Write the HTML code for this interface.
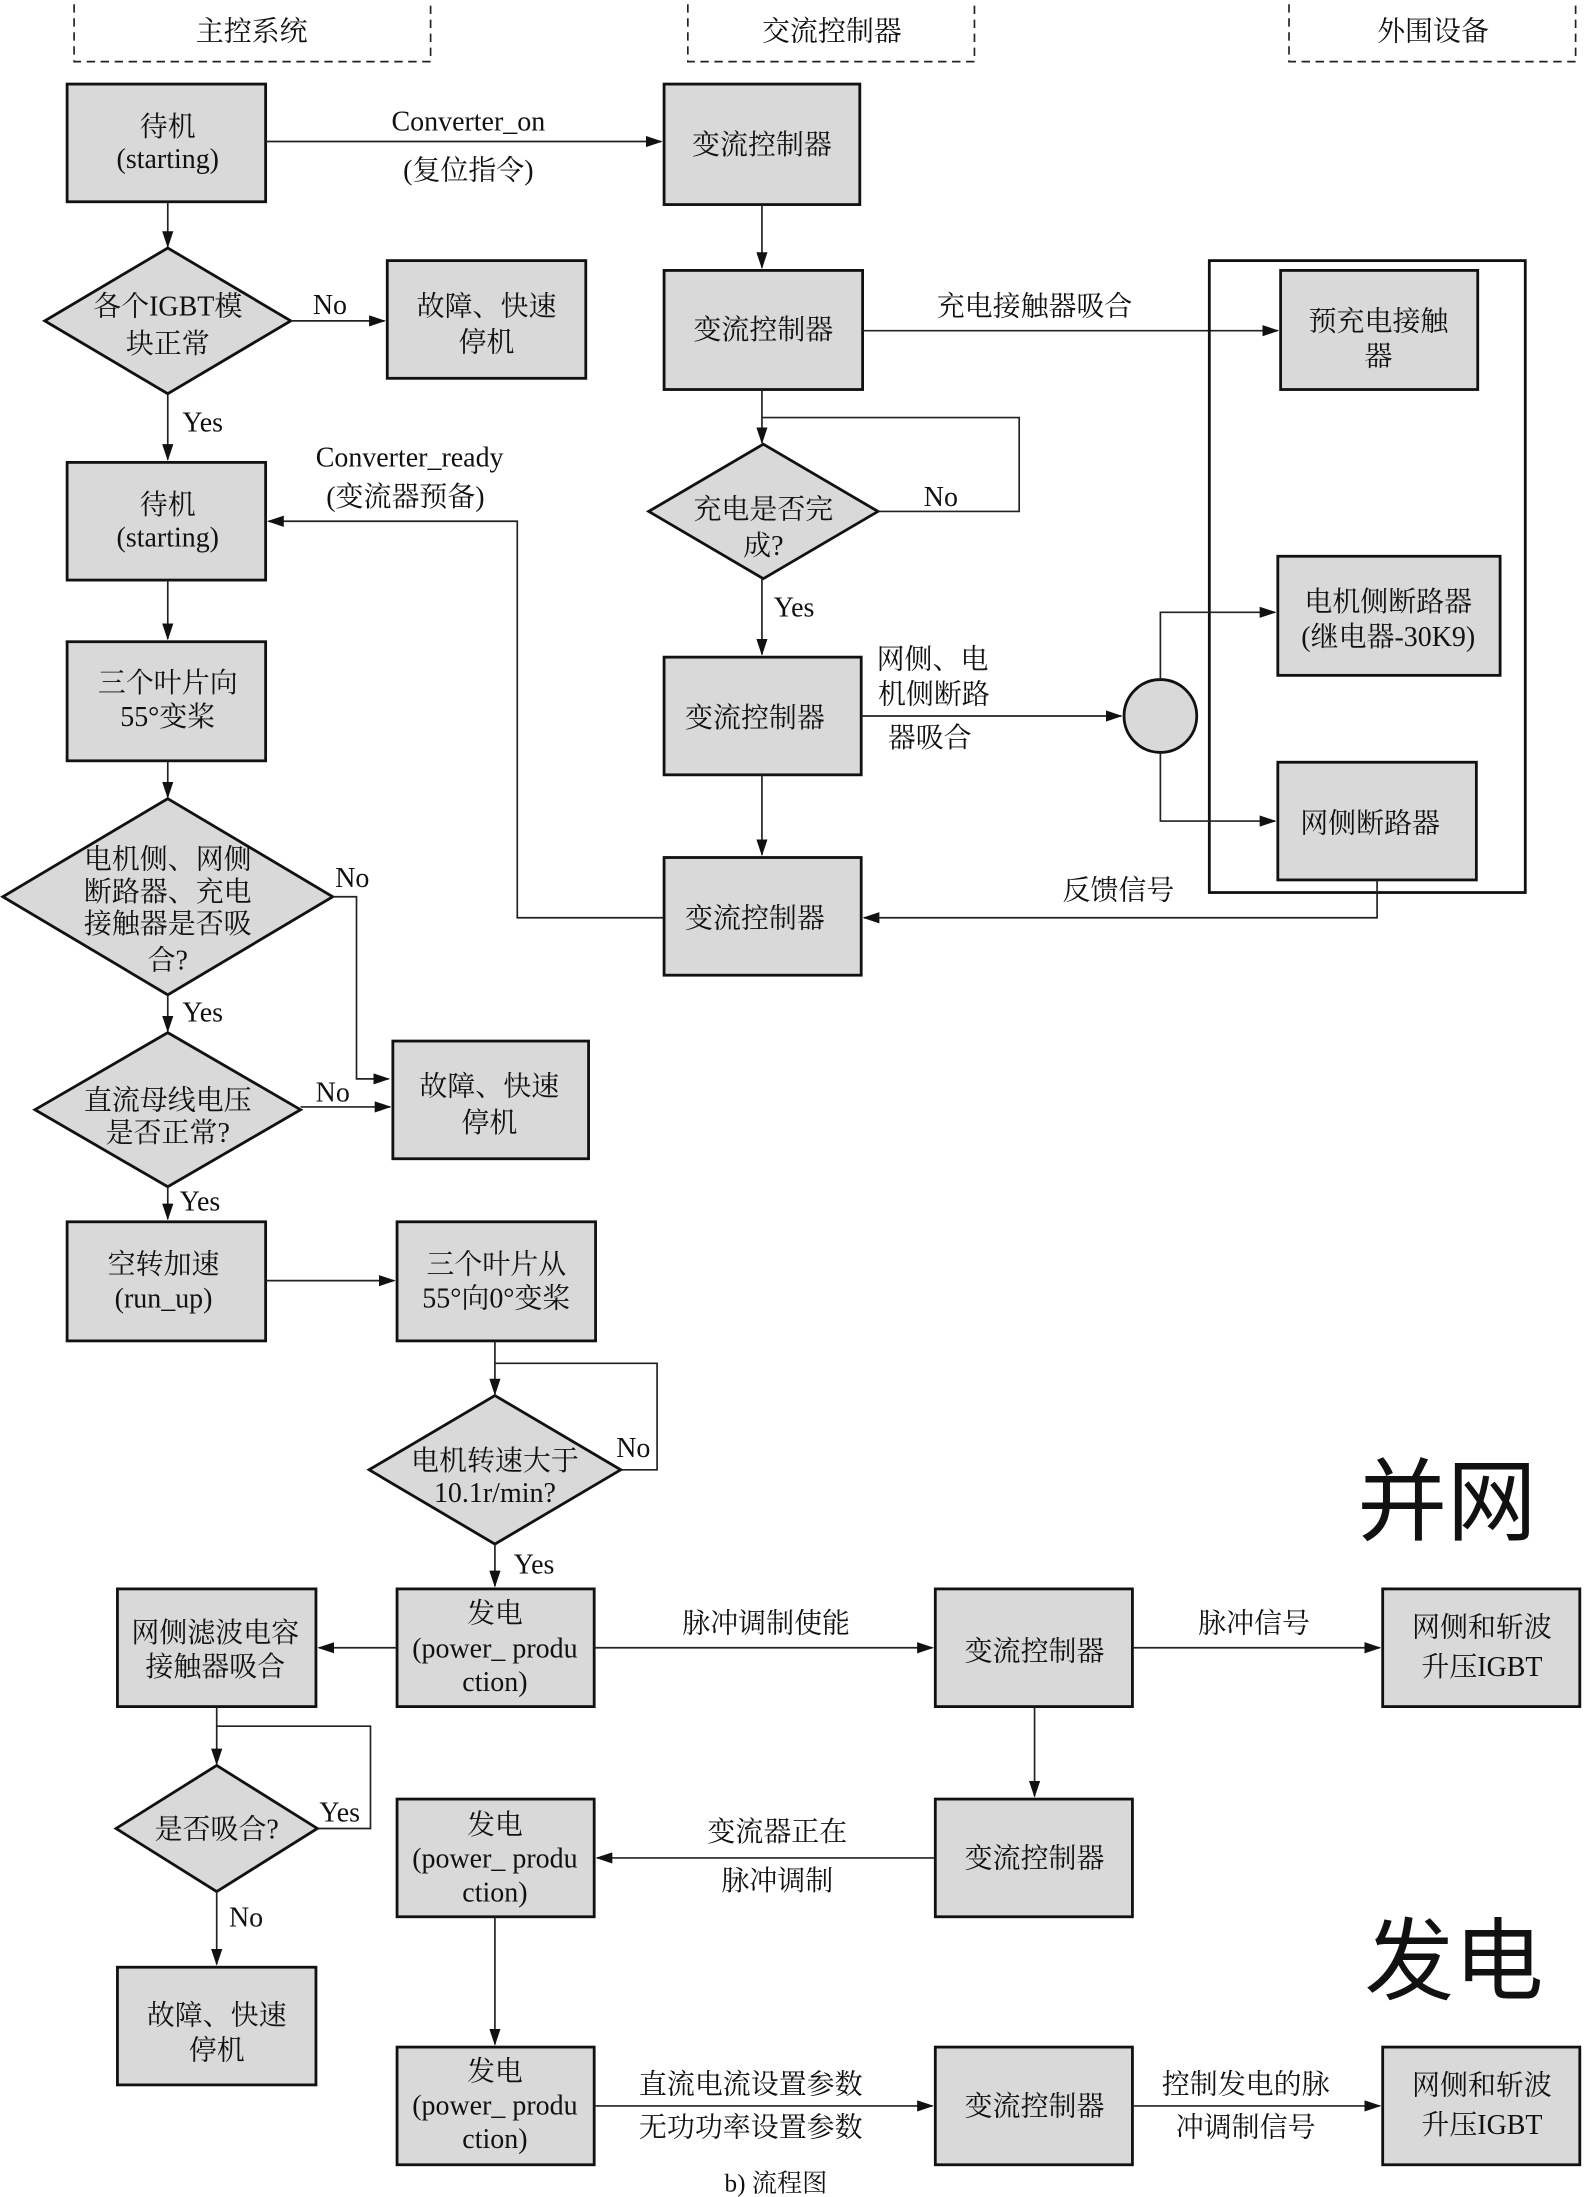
<!DOCTYPE html>
<html><head><meta charset="utf-8">
<style>
html,body{margin:0;padding:0;background:#fff;}
svg{display:block;}
text{font-family:"Liberation Serif","Noto Serif CJK SC","Noto Sans CJK SC",serif;font-size:20px;fill:#111;text-anchor:middle;}
.b{fill:#d9d9d9;stroke:#111;stroke-width:2;}
.l{fill:none;stroke:#222;stroke-width:1.2;}
</style></head><body>
<svg width="1584" height="2197" viewBox="0 0 1133 1568" preserveAspectRatio="none" xmlns="http://www.w3.org/2000/svg">
<defs><marker id="a" markerWidth="12" markerHeight="8" refX="11" refY="4" orient="auto" markerUnits="userSpaceOnUse"><path d="M0,0 L12,4 L0,8 Z" fill="#111"/></marker></defs>

<!-- headers -->
<g fill="none" stroke="#222" stroke-width="1.2" stroke-dasharray="6,4">
<path d="M53,3 V44 H308 V3"/><path d="M492,3 V44 H697 V3"/><path d="M922,3 V44 H1127 V3"/>
</g>
<text x="180" y="29">主控系统</text><text x="595" y="29">交流控制器</text><text x="1025" y="29">外围设备</text>

<!-- left column -->
<rect class="b" x="48" y="60" width="142" height="84"/>
<text x="120" y="97">待机</text><text x="120" y="120">(starting)</text>
<path class="l" d="M190,101 H473" marker-end="url(#a)"/>
<text x="335" y="93">Converter_on</text><text x="335" y="128">(复位指令)</text>
<path class="l" d="M120,144 V176" marker-end="url(#a)"/>
<polygon class="b" points="120,177 208,229 120,281 32,229"/>
<text x="120" y="225">各个IGBT模</text><text x="120" y="252">块正常</text>
<path class="l" d="M208,229 H275" marker-end="url(#a)"/><text x="236" y="224">No</text>
<rect class="b" x="277" y="186" width="142" height="84"/>
<text x="348" y="225">故障、快速</text><text x="348" y="251">停机</text>
<path class="l" d="M120,281 V328" marker-end="url(#a)"/><text x="145" y="308">Yes</text>
<rect class="b" x="48" y="330" width="142" height="84"/>
<text x="120" y="367">待机</text><text x="120" y="390">(starting)</text>
<text x="293" y="333">Converter_ready</text><text x="290" y="361">(变流器预备)</text>
<path class="l" d="M475,655 H370 V372 H192" marker-end="url(#a)"/>
<path class="l" d="M120,414 V456" marker-end="url(#a)"/>
<rect class="b" x="48" y="458" width="142" height="85"/>
<text x="120" y="494">三个叶片向</text><text x="120" y="518">55°变桨</text>
<path class="l" d="M120,543 V569" marker-end="url(#a)"/>
<polygon class="b" points="120,570 238,640 120,710 2,640"/>
<text x="120" y="620">电机侧、网侧</text><text x="120" y="643">断路器、充电</text><text x="120" y="666">接触器是否吸</text><text x="120" y="692">合?</text>
<path class="l" d="M238,640 H255 V770 H278" marker-end="url(#a)"/><text x="252" y="633">No</text>
<path class="l" d="M120,710 V736" marker-end="url(#a)"/><text x="145" y="729">Yes</text>
<polygon class="b" points="120,737 215,792 120,847 25,792"/>
<text x="120" y="792">直流母线电压</text><text x="120" y="815">是否正常?</text>
<path class="l" d="M215,790 H279" marker-end="url(#a)"/><text x="238" y="786">No</text>
<rect class="b" x="281" y="743" width="140" height="84"/>
<text x="350" y="782">故障、快速</text><text x="350" y="808">停机</text>
<path class="l" d="M120,847 V870" marker-end="url(#a)"/><text x="143" y="864">Yes</text>
<rect class="b" x="48" y="872" width="142" height="85"/>
<text x="117" y="909">空转加速</text><text x="117" y="933">(run_up)</text>
<path class="l" d="M190,914 H282" marker-end="url(#a)"/>
<rect class="b" x="284" y="872" width="142" height="85"/>
<text x="355" y="909">三个叶片从</text><text x="355" y="933">55°向0°变桨</text>
<path class="l" d="M354,957 V995" marker-end="url(#a)"/>
<path class="l" d="M354,973 H470 V1049 H444"/>
<polygon class="b" points="354,996 444,1049 354,1102 264,1049"/>
<text x="354" y="1049">电机转速大于</text><text x="354" y="1072">10.1r/min?</text>
<text x="453" y="1040">No</text>
<path class="l" d="M354,1102 V1132" marker-end="url(#a)"/><text x="382" y="1123">Yes</text>
<rect class="b" x="284" y="1134" width="141" height="84"/>
<text x="354" y="1158">发电</text><text x="354" y="1183">(power_ produ</text><text x="354" y="1207">ction)</text>
<path class="l" d="M284,1176 H228" marker-end="url(#a)"/>
<rect class="b" x="84" y="1134" width="142" height="84"/>
<text x="154" y="1172">网侧滤波电容</text><text x="154" y="1196">接触器吸合</text>
<path class="l" d="M425,1176 H667" marker-end="url(#a)"/><text x="548" y="1165">脉冲调制使能</text>
<rect class="b" x="669" y="1134" width="141" height="84"/>
<text x="740" y="1185">变流控制器</text>
<path class="l" d="M810,1176 H987" marker-end="url(#a)"/><text x="897" y="1165">脉冲信号</text>
<rect class="b" x="989" y="1134" width="141" height="84"/>
<text x="1060" y="1168">网侧和斩波</text><text x="1060" y="1196">升压IGBT</text>
<path class="l" d="M740,1218 V1282" marker-end="url(#a)"/>
<rect class="b" x="669" y="1284" width="141" height="84"/>
<text x="740" y="1333">变流控制器</text>
<path class="l" d="M669,1326 H427" marker-end="url(#a)"/>
<text x="556" y="1314">变流器正在</text><text x="556" y="1349">脉冲调制</text>
<rect class="b" x="284" y="1284" width="141" height="84"/>
<text x="354" y="1309">发电</text><text x="354" y="1333">(power_ produ</text><text x="354" y="1357">ction)</text>
<path class="l" d="M354,1368 V1459" marker-end="url(#a)"/>
<rect class="b" x="284" y="1461" width="141" height="84"/>
<text x="354" y="1485">发电</text><text x="354" y="1509">(power_ produ</text><text x="354" y="1533">ction)</text>
<path class="l" d="M425,1503 H667" marker-end="url(#a)"/>
<text x="537" y="1494">直流电流设置参数</text><text x="537" y="1525">无功功率设置参数</text>
<rect class="b" x="669" y="1461" width="141" height="84"/>
<text x="740" y="1510">变流控制器</text>
<path class="l" d="M810,1503 H987" marker-end="url(#a)"/>
<text x="891" y="1494">控制发电的脉</text><text x="891" y="1525">冲调制信号</text>
<rect class="b" x="989" y="1461" width="141" height="84"/>
<text x="1060" y="1495">网侧和斩波</text><text x="1060" y="1523">升压IGBT</text>
<path class="l" d="M155,1218 V1259" marker-end="url(#a)"/>
<path class="l" d="M155,1232 H265 V1305 H227"/>
<polygon class="b" points="155,1260 227,1305 155,1350 83,1305"/>
<text x="155" y="1312">是否吸合?</text><text x="243" y="1300">Yes</text>
<path class="l" d="M155,1350 V1402" marker-end="url(#a)"/><text x="176" y="1375">No</text>
<rect class="b" x="84" y="1404" width="142" height="84"/>
<text x="155" y="1445">故障、快速</text><text x="155" y="1470">停机</text>
<text x="555" y="1564" style="font-size:18px">b) 流程图</text>
<text x="1035" y="1094" style="font-size:64px;font-family:'Noto Sans CJK SC',sans-serif">并网</text>
<text x="1040" y="1422" style="font-size:64px;font-family:'Noto Sans CJK SC',sans-serif">发电</text>

<!-- right column -->
<rect class="b" x="475" y="60" width="140" height="86"/>
<text x="545" y="110">变流控制器</text>
<path class="l" d="M545,146 V191" marker-end="url(#a)"/>
<rect class="b" x="475" y="193" width="142" height="85"/>
<text x="546" y="242">变流控制器</text>
<path class="l" d="M617,236 H914" marker-end="url(#a)"/><text x="740" y="225">充电接触器吸合</text>
<rect x="865" y="186" width="226" height="451" fill="none" stroke="#111" stroke-width="2"/>
<rect class="b" x="916" y="193" width="141" height="85"/>
<text x="986" y="236">预充电接触</text><text x="986" y="261">器</text>
<path class="l" d="M545,278 V316" marker-end="url(#a)"/>
<path class="l" d="M545,298 H729 V365 H628"/>
<polygon class="b" points="546,317 628,365 546,413 464,365"/>
<text x="546" y="370">充电是否完</text><text x="546" y="396">成?</text>
<text x="673" y="361">No</text>
<path class="l" d="M545,413 V467" marker-end="url(#a)"/><text x="568" y="440">Yes</text>
<rect class="b" x="475" y="469" width="141" height="84"/>
<text x="540" y="519">变流控制器</text>
<path class="l" d="M616,511 H802" marker-end="url(#a)"/>
<text x="667" y="477">网侧、电</text><text x="668" y="502">机侧断路</text><text x="665" y="533">器吸合</text>
<circle cx="830" cy="511" r="26" fill="#d9d9d9" stroke="#111" stroke-width="2"/>
<path class="l" d="M830,485 V437 H912" marker-end="url(#a)"/>
<path class="l" d="M830,537 V586 H912" marker-end="url(#a)"/>
<rect class="b" x="914" y="397" width="159" height="85"/>
<text x="993" y="436">电机侧断路器</text><text x="993" y="461">(继电器-30K9)</text>
<rect class="b" x="914" y="544" width="142" height="84"/>
<text x="980" y="594">网侧断路器</text>
<path class="l" d="M545,553 V610" marker-end="url(#a)"/>
<rect class="b" x="475" y="612" width="141" height="84"/>
<text x="540" y="662">变流控制器</text>
<path class="l" d="M985,628 V655 H618" marker-end="url(#a)"/><text x="800" y="642">反馈信号</text>
</svg>
</body></html>
